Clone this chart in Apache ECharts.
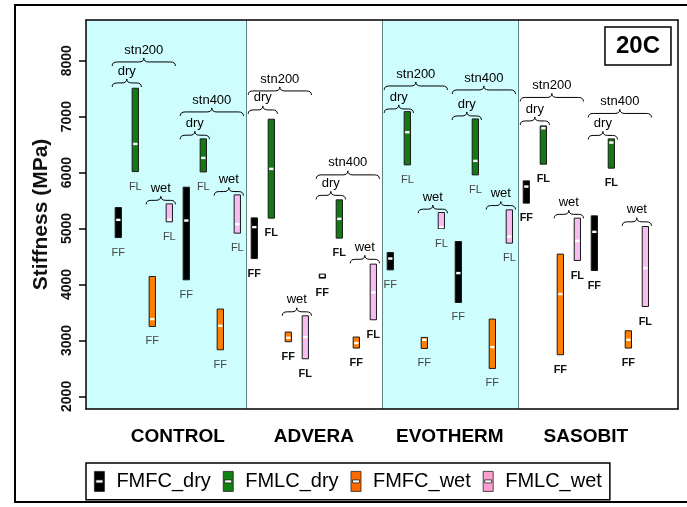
<!DOCTYPE html>
<html>
<head>
<meta charset="utf-8">
<title>Stiffness 20C</title>
<script src="https://cdn.jsdelivr.net/npm/echarts@6/dist/echarts.min.js"></script>
<style>
  html, body { margin: 0; padding: 0; background: #fff; }
  #chart { width: 687px; height: 507px; }
</style>
</head>
<body>
<div id="chart"></div>
<script>
const groups = ['CONTROL', 'ADVERA', 'EVOTHERM', 'SASOBIT']
const seriesNames = ['FMFC_dry', 'FMLC_dry', 'FMFC_wet', 'FMLC_wet']
const barLabels = ['FF', 'FL', 'FF', 'FL']
const yTicks = [2000, 3000, 4000, 5000, 6000, 7000, 8000]

// [low, median, high] in MPa, order: CONTROL stn200, CONTROL stn400, ADVERA stn200, ADVERA stn400, ...
const fmfcDry = [
  [4839, 5155, 5375], [4084, 5143, 5739],
  [4464, 5025, 5191], [4114, 4155, 4186],
  [4262, 4464, 4571], [3679, 4204, 4768],
  [5454, 5750, 5852], [4250, 4941, 5227]
]
const fmlcDry = [
  [6018, 6512, 7507], [6012, 6262, 6602],
  [5186, 6066, 6954], [4829, 5173, 5513],
  [6138, 6721, 7089], [5959, 6209, 6959],
  [6150, 6793, 6834], [6079, 6536, 6602]
]
const fmfcWet = [
  [3250, 3382, 4143], [2834, 3262, 3561],
  [2977, 3048, 3150], [2864, 2954, 3061],
  [2857, 3012, 3054], [2500, 2882, 3382],
  [2745, 3829, 4543], [2864, 3012, 3173]
]
const fmlcWet = [
  [5120, 5160, 5441], [4918, 5079, 5602],
  [2673, 3061, 3441], [3370, 3857, 4364],
  [5000, 5025, 5286], [4739, 4857, 5334],
  [4429, 4780, 5186], [3607, 4293, 5036]
]

// brace annotations: [first slot, last slot, level (MPa), text]
const braces = [
  [1, 4, 7977, 'stn200'], [1, 2, 7602, 'dry'], [3, 4, 5504, 'wet'],
  [5, 8, 7084, 'stn400'], [5, 6, 6668, 'dry'], [7, 8, 5661, 'wet'],
  [9, 12, 7459, 'stn200'], [9, 10, 7120, 'dry'], [11, 12, 3512, 'wet'],
  [13, 16, 5959, 'stn400'], [13, 14, 5593, 'dry'], [15, 16, 4450, 'wet'],
  [17, 20, 7548, 'stn200'], [17, 18, 7137, 'dry'], [19, 20, 5346, 'wet'],
  [21, 24, 7477, 'stn400'], [21, 22, 7012, 'dry'], [23, 24, 5411, 'wet'],
  [25, 28, 7343, 'stn200'], [25, 26, 6923, 'dry'], [27, 28, 5254, 'wet'],
  [29, 32, 7057, 'stn400'], [29, 30, 6664, 'dry'], [31, 32, 5120, 'wet']
]

const seriesValues = [fmfcDry, fmlcDry, fmfcWet, fmlcWet]
const barColors = ['#000000', '#137a13', '#ff8000', '#f7bdf0']
const legendColors = ['#000000', '#138013', '#ff6a00', '#ff9fd0']

const font = 'Liberation Sans, Arial, sans-serif'
const xMin = -0.9
const xMax = 33.92
const yMin = 1775
const yMax = 8727

// slot number on the x axis for a series / group / station
const slotOf = (s, g, j) => g * 8 + j * 4 + s + 1

const buildBarData = (s) => seriesValues[s].map((v, i) => {
  const g = Math.floor(i / 2)
  const j = i % 2
  return [slotOf(s, g, j), v[0], v[1], v[2]]
})

const makeBarRenderer = (s) => (params, api) => {
  const x = api.value(0)
  const top = api.coord([x, api.value(3)])
  const bottom = api.coord([x, api.value(1)])
  const mid = api.coord([x, api.value(2)])
  const w = api.size([0.37, 0])[0]
  const h = Math.max(bottom[1] - top[1], 3)
  const g = Math.floor((x - 1) / 8)
  return {
    type: 'group',
    children: [
      {
        type: 'rect',
        shape: { x: top[0] - w / 2, y: top[1], width: w, height: h },
        style: { fill: barColors[s], stroke: '#1a1a1a', lineWidth: 1 }
      },
      {
        type: 'rect',
        shape: { x: mid[0] - w / 2 + 1, y: mid[1] - 1.2, width: w - 2, height: 2.4 },
        style: { fill: '#ffffff' }
      },
      {
        type: 'text',
        x: top[0],
        y: bottom[1] + 15,
        style: {
          text: barLabels[s],
          fill: g % 2 ? '#111' : '#444',
          fontSize: 11,
          fontWeight: g % 2 ? 'bold' : 'normal',
          fontFamily: font,
          align: 'center',
          verticalAlign: 'middle'
        }
      }
    ]
  }
}

const renderBrace = (params, api) => {
  const a = api.coord([api.value(0) - 0.36, api.value(2)])
  const b = api.coord([api.value(1) + 0.36, api.value(2)])
  const y = a[1]
  const x1 = a[0]
  const x2 = b[0]
  const xm = (x1 + x2) / 2
  const h = 4
  const r = 5
  const d = 'M' + x1 + ',' + (y + h) + ' Q' + x1 + ',' + y + ' ' + (x1 + r) + ',' + y +
    ' L' + (xm - r) + ',' + y + ' Q' + xm + ',' + y + ' ' + xm + ',' + (y - h) +
    ' Q' + xm + ',' + y + ' ' + (xm + r) + ',' + y + ' L' + (x2 - r) + ',' + y +
    ' Q' + x2 + ',' + y + ' ' + x2 + ',' + (y + h)
  return {
    type: 'group',
    children: [
      {
        type: 'path',
        shape: { pathData: d, x: x1, y: y - h, width: x2 - x1, height: 2 * h, layout: 'cover' },
        style: { fill: 'none', stroke: '#000', lineWidth: 1 }
      },
      {
        type: 'text',
        x: xm,
        y: y - 12,
        style: {
          text: braces[params.dataIndex][3],
          fill: '#000',
          fontSize: 13,
          fontFamily: font,
          align: 'center',
          verticalAlign: 'middle'
        }
      }
    ]
  }
}

const groupLabelData = groups.map((name, g) => {
  const left = Math.max(xMin, g * 8 + 0.5)
  const right = Math.min(xMax, g * 8 + 8.5)
  return [(left + right) / 2, yMin]
})

const renderGroupLabel = (params, api) => {
  const p = api.coord([api.value(0), api.value(1)])
  return {
    type: 'text',
    x: p[0],
    y: p[1] + 28,
    style: {
      text: groups[params.dataIndex],
      fill: '#000',
      fontSize: 19,
      fontWeight: 'bold',
      fontFamily: font,
      align: 'center',
      verticalAlign: 'middle'
    }
  }
}

const chart = echarts.init(document.getElementById('chart'))

const barSeries = seriesNames.map((name, s) => ({
  name: name,
  type: 'custom',
  itemStyle: { color: legendColors[s] },
  renderItem: makeBarRenderer(s),
  encode: { x: 0, y: [1, 2, 3] },
  data: buildBarData(s),
  z: 5
}))

const option = {
  animation: false,
  backgroundColor: '#fff',
  title: {
    text: '20C',
    right: 16,
    top: 27,
    padding: [7, 11],
    borderColor: '#000',
    borderWidth: 1.5,
    backgroundColor: '#fff',
    textStyle: { fontSize: 24, fontWeight: 'bold', fontFamily: font, color: '#000' }
  },
  legend: {
    left: 86,
    top: 463,
    padding: [8, 8],
    itemWidth: 10,
    itemHeight: 20,
    itemGap: 12,
    borderColor: '#000',
    borderWidth: 1.5,
    backgroundColor: '#fff',
    selectedMode: false,
    textStyle: { fontSize: 20, fontFamily: font, color: '#000', padding: [0, 0, 0, 7] },
    data: seriesNames.map((name, s) => ({
      name: name,
      // filled box with a hole across the middle (white median stripe)
      icon: 'path://M0,0h10v20h-10z M1.5,8.5v3h7v-3z',
      itemStyle: { color: legendColors[s], borderColor: '#222', borderWidth: 0.8 }
    }))
  },
  grid: { left: 86, top: 20, width: 592, height: 389 },
  graphic: [{
    type: 'rect',
    shape: { x: 15, y: 5, width: 700, height: 497 },
    style: { fill: 'none', stroke: '#000', lineWidth: 2 },
    silent: true
  }],
  xAxis: [
    {
      type: 'value', min: xMin, max: xMax, z: 10,
      axisLine: { show: true, onZero: false, lineStyle: { color: '#000', width: 1.5 } },
      axisTick: { show: false }, axisLabel: { show: false }, splitLine: { show: false }
    },
    {
      type: 'value', position: 'top', min: xMin, max: xMax, z: 10,
      axisLine: { show: true, onZero: false, lineStyle: { color: '#000', width: 1.5 } },
      axisTick: { show: false }, axisLabel: { show: false }, splitLine: { show: false }
    }
  ],
  yAxis: [
    {
      type: 'value',
      min: yMin,
      max: yMax,
      z: 10,
      name: 'Stiffness (MPa)',
      nameLocation: 'middle',
      nameRotate: 90,
      nameGap: 34,
      nameTextStyle: { fontSize: 21, fontWeight: 'bold', fontFamily: font, color: '#111' },
      axisLine: { show: true, onZero: false, lineStyle: { color: '#000', width: 1.5 } },
      axisTick: { show: true, length: 7, customValues: yTicks, lineStyle: { color: '#000', width: 1.5 } },
      axisLabel: {
        customValues: yTicks,
        formatter: (v) => String(v),
        rotate: 90,
        margin: 12,
        fontSize: 14,
        fontWeight: 'bold',
        fontFamily: font,
        color: '#111'
      },
      splitLine: { show: false }
    },
    {
      type: 'value', position: 'right', min: yMin, max: yMax, z: 10,
      axisLine: { show: true, onZero: false, lineStyle: { color: '#000', width: 1.5 } },
      axisTick: { show: false }, axisLabel: { show: false }, splitLine: { show: false }
    }
  ],
  series: [
    {
      name: 'groups',
      type: 'custom',
      renderItem: renderGroupLabel,
      data: groupLabelData,
      clip: false,
      z: 1,
      markArea: {
        silent: true,
        itemStyle: { color: '#cdfdfd' },
        data: [
          [{ xAxis: xMin }, { xAxis: 8.5 }],
          [{ xAxis: 16.5 }, { xAxis: 24.5 }]
        ]
      },
      markLine: {
        silent: true,
        symbol: ['none', 'none'],
        label: { show: false },
        lineStyle: { color: '#5f8282', width: 1, type: 'solid' },
        data: [{ xAxis: 8.5 }, { xAxis: 16.5 }, { xAxis: 24.5 }]
      }
    },
    ...barSeries,
    {
      name: 'braces',
      type: 'custom',
      renderItem: renderBrace,
      encode: { x: [0, 1], y: 2 },
      data: braces.map(b => [b[0], b[1], b[2]]),
      z: 6
    }
  ]
}

chart.setOption(option)

window.addEventListener('resize', () => {
  chart.resize()
})
</script>
</body>
</html>
